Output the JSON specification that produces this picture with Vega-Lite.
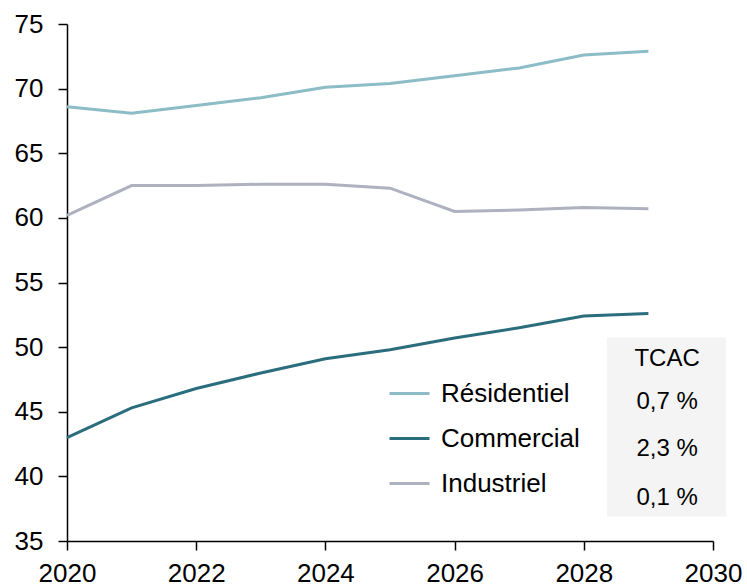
{
  "$schema": "https://vega.github.io/schema/vega-lite/v6.json",
  "autosize": {"type": "none"},
  "width": 646,
  "height": 517,
  "padding": {"left": 67, "top": 24, "right": 34, "bottom": 46},
  "config": {
    "font": "Liberation Sans",
    "view": {"stroke": null},
    "axis": {"grid": false, "domainColor": "#000000", "tickColor": "#000000", "labelColor": "#000000", "labelFontSize": 26, "domainWidth": 1.5, "tickWidth": 1.5, "tickSize": 9, "labelFlush": false, "labelOverlap": false, "title": null}
  },
  "datasets": {
    "series": [
      {"year": 2020, "sector": "Résidentiel", "value": 68.6},
      {"year": 2021, "sector": "Résidentiel", "value": 68.1},
      {"year": 2022, "sector": "Résidentiel", "value": 68.7},
      {"year": 2023, "sector": "Résidentiel", "value": 69.3},
      {"year": 2024, "sector": "Résidentiel", "value": 70.1},
      {"year": 2025, "sector": "Résidentiel", "value": 70.4},
      {"year": 2026, "sector": "Résidentiel", "value": 71.0},
      {"year": 2027, "sector": "Résidentiel", "value": 71.6},
      {"year": 2028, "sector": "Résidentiel", "value": 72.6},
      {"year": 2029, "sector": "Résidentiel", "value": 72.9},
      {"year": 2020, "sector": "Commercial", "value": 43.0},
      {"year": 2021, "sector": "Commercial", "value": 45.3},
      {"year": 2022, "sector": "Commercial", "value": 46.8},
      {"year": 2023, "sector": "Commercial", "value": 48.0},
      {"year": 2024, "sector": "Commercial", "value": 49.1},
      {"year": 2025, "sector": "Commercial", "value": 49.8},
      {"year": 2026, "sector": "Commercial", "value": 50.7},
      {"year": 2027, "sector": "Commercial", "value": 51.5},
      {"year": 2028, "sector": "Commercial", "value": 52.4},
      {"year": 2029, "sector": "Commercial", "value": 52.6},
      {"year": 2020, "sector": "Industriel", "value": 60.2},
      {"year": 2021, "sector": "Industriel", "value": 62.5},
      {"year": 2022, "sector": "Industriel", "value": 62.5},
      {"year": 2023, "sector": "Industriel", "value": 62.6},
      {"year": 2024, "sector": "Industriel", "value": 62.6},
      {"year": 2025, "sector": "Industriel", "value": 62.3},
      {"year": 2026, "sector": "Industriel", "value": 60.5},
      {"year": 2027, "sector": "Industriel", "value": 60.6},
      {"year": 2028, "sector": "Industriel", "value": 60.8},
      {"year": 2029, "sector": "Industriel", "value": 60.7}
    ],
    "box": [{"x1": 2028.36, "x2": 2030.2, "y1": 50.75, "y2": 36.9}],
    "tcac": [
      {"x": 2029.29, "y": 49.1, "label": "TCAC"},
      {"x": 2029.29, "y": 45.73, "label": "0,7 %"},
      {"x": 2029.29, "y": 42.12, "label": "2,3 %"},
      {"x": 2029.29, "y": 38.33, "label": "0,1 %"}
    ]
  },
  "layer": [
    {
      "data": {"name": "box"},
      "mark": {"type": "rect", "color": "#f4f4f4", "clip": false},
      "encoding": {
        "x": {"field": "x1", "type": "quantitative", "scale": {"domain": [2020, 2030]}},
        "x2": {"field": "x2"},
        "y": {"field": "y1", "type": "quantitative", "scale": {"domain": [35, 75]}},
        "y2": {"field": "y2"}
      }
    },
    {
      "data": {"name": "tcac"},
      "mark": {"type": "text", "fontSize": 24, "color": "#000000", "align": "center", "baseline": "middle", "clip": false},
      "encoding": {
        "x": {"field": "x", "type": "quantitative"},
        "y": {"field": "y", "type": "quantitative"},
        "text": {"field": "label"}
      }
    },
    {
      "data": {"name": "series"},
      "mark": {"type": "line", "strokeWidth": 3},
      "encoding": {
        "x": {"field": "year", "type": "quantitative", "scale": {"domain": [2020, 2030], "nice": false, "zero": false}, "axis": {"values": [2020, 2022, 2024, 2026, 2028, 2030], "format": "d", "labelPadding": 10}},
        "y": {"field": "value", "type": "quantitative", "scale": {"domain": [35, 75], "nice": false, "zero": false}, "axis": {"values": [35, 40, 45, 50, 55, 60, 65, 70, 75], "labelPadding": 15}},
        "color": {
          "field": "sector",
          "type": "nominal",
          "sort": ["Résidentiel", "Commercial", "Industriel"],
          "scale": {"domain": ["Résidentiel", "Commercial", "Industriel"], "range": ["#8cbcc5", "#2a6d7d", "#aeb1bf"]},
          "legend": {
            "title": null,
            "orient": "none",
            "legendX": 321,
            "legendY": 348,
            "symbolType": "stroke",
            "symbolSize": 1600,
            "symbolStrokeWidth": 3,
            "labelFontSize": 26,
            "labelColor": "#000000",
            "labelOffset": 10,
            "rowPadding": 10
          }
        }
      }
    }
  ]
}
